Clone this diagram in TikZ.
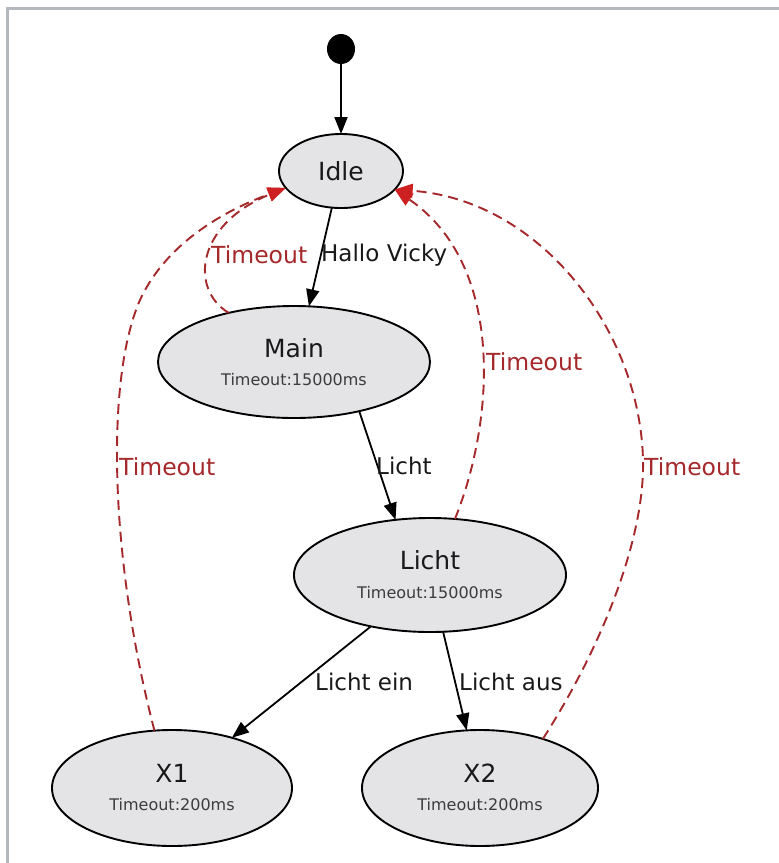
\documentclass[tikz,border=0pt]{standalone}
\usepackage{fontspec}
\setmainfont{DejaVu Sans}
\usetikzlibrary{arrows.meta,shapes.geometric}
\definecolor{nodefill}{RGB}{228,228,231}
\definecolor{tored}{RGB}{165,40,42}
\definecolor{tohead}{RGB}{205,32,32}
\definecolor{framec}{RGB}{178,184,190}
\definecolor{subc}{RGB}{60,60,60}
\begin{document}
\begin{tikzpicture}[x=1pt,y=-1pt,
  state/.style={ellipse, draw=black, line width=1.9pt, fill=nodefill, inner sep=0pt, outer sep=0pt},
  maintext/.style={font=\fontsize{25}{29}\selectfont, inner sep=0pt, text=black!90},
  subtext/.style={font=\fontsize{16}{19}\selectfont, inner sep=0pt, text=subc},
  elabel/.style={font=\fontsize{23}{27}\selectfont, inner sep=0pt, anchor=west, text=black!90},
  tlabel/.style={font=\fontsize{23.5}{27}\selectfont, inner sep=0pt, anchor=west, text=tored},
  trans/.style={draw=black, line width=1.8pt, -{Triangle[length=17pt,width=13pt]}},
  timeout/.style={draw=tored, line width=1.9pt, dash pattern=on 10pt off 6pt,
     -{Triangle[length=18pt,width=14pt,color=tohead,fill=tohead]}},
]
\useasboundingbox (0,0) rectangle (779,863);
\fill[white] (0,0) rectangle (779,863);
\draw[framec, line width=3pt] (7,863) -- (7,8.5) -- (779,8.5);

% states
\node[ellipse, fill=black, minimum width=28pt, minimum height=30pt, inner sep=0pt, outer sep=0pt] (start) at (341,49) {};
\node[state, minimum width=124pt, minimum height=74pt] (idle) at (341,171) {};
\node[state, minimum width=272pt, minimum height=112pt] (main) at (294,362) {};
\node[state, minimum width=272pt, minimum height=114pt] (licht) at (430,575) {};
\node[state, minimum width=240pt, minimum height=116pt] (X1) at (172,788) {};
\node[state, minimum width=236pt, minimum height=116pt] (X2) at (480,788) {};

% state texts
\node[maintext] (idleT) at (idle.center) {Idle};
\node[maintext] (mainT) at ([yshift=14pt]main.center) {Main};
\node[subtext] (mainS) at ([yshift=-18pt]main.center) {Timeout:15000ms};
\node[maintext] (lichtT) at ([yshift=15pt]licht.center) {Licht};
\node[subtext] (lichtS) at ([yshift=-18pt]licht.center) {Timeout:15000ms};
\node[maintext] (x1T) at ([yshift=15pt]X1.center) {X1};
\node[subtext] (x1S) at ([yshift=-17pt]X1.center) {Timeout:200ms};
\node[maintext] (x2T) at ([yshift=15pt]X2.center) {X2};
\node[subtext] (x2S) at ([yshift=-17pt]X2.center) {Timeout:200ms};

% transitions
\draw[trans] (start.south) -- (idle.north);
\draw[trans] (idle.256) -- (main.75);
\draw[trans] (main.-37) -- (licht.122);
\draw[trans] (licht.221) -- (X1.40);
\draw[trans] (licht.-77) -- (X2.103);

% timeout transitions
\coordinate (bL) at (140,300);
\coordinate (bR) at (643,460);
\draw[timeout] (main.143) .. controls (190,290) and (195,225) .. (idle.197);
\draw[timeout] (X1.107) .. controls (110,560) and (105,380) .. (bL) .. controls (170,235) and (240,205) .. (idle.197);
\draw[timeout] (licht.66) .. controls (495,420) and (505,265) .. (idle.-19);
\draw[timeout] (X2.38) .. controls (600,650) and (645,540) .. (bR) .. controls (640,330) and (540,200) .. (idle.-19);

% labels
\node[tlabel] (tA) at (211,255) {Timeout};
\node[elabel] (hv) at (321,255) {Hallo Vicky};
\node[tlabel] (tB) at (119,467) {Timeout};
\node[tlabel] (tC) at (486,362) {Timeout};
\node[tlabel] (tD) at (644,467) {Timeout};
\node[elabel] (lm) at (376,466) {Licht};
\node[elabel] (le) at (315,682) {Licht ein};
\node[elabel] (la) at (459,682) {Licht aus};
\end{tikzpicture}
\end{document}
